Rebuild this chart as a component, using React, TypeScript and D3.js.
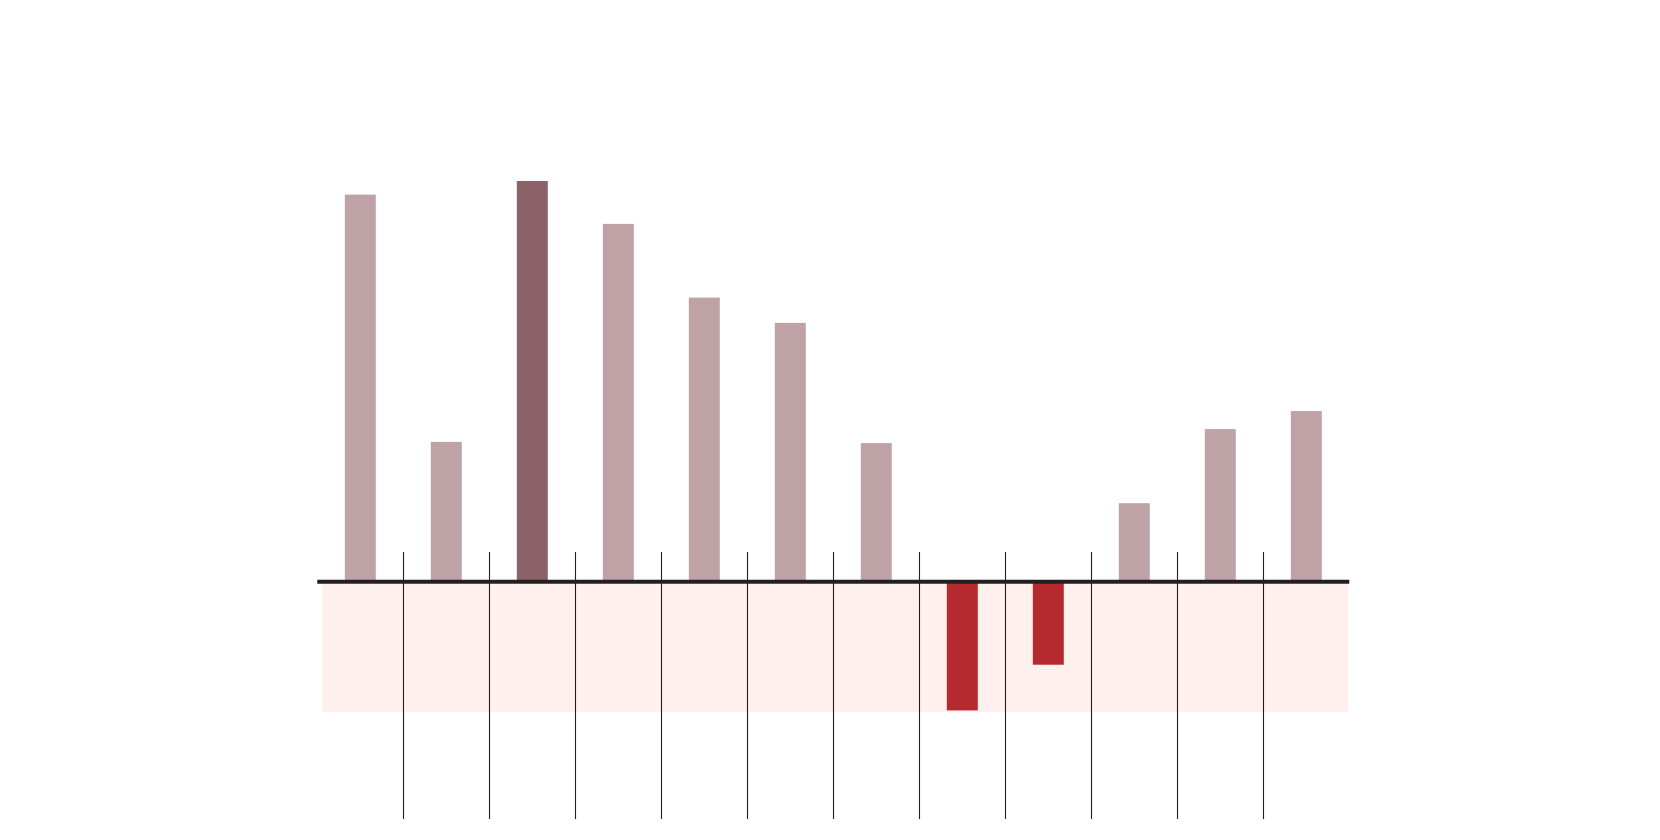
import React, { useRef, useEffect } from "react";
import * as d3 from "d3";

// Chart data
const categories = ["A", "B", "C", "D", "E", "F", "G", "H", "I", "J", "K", "L"];
const values = [96.6, 34.9, 100, 89.3, 70.9, 64.6, 34.6, -32.1, -20.7, 19.6, 38.1, 42.6];
const highlighted = ["C"];
const yDomain: [number, number] = [-32.5, 100];

const WIDTH = 1660;
const HEIGHT = 840;

const COLORS = {
    bar: "#bea2a6",
    highlight: "#8b6268",
    negative: "#b5292f",
    band: "#fef0ec",
    axis: "#231f20",
};

export default function App() {
    const svgRef = useRef<SVGSVGElement>(null);

    useEffect(() => {
        if (!svgRef.current) return;
        const svg = d3.select(svgRef.current);
        svg.selectAll("*").remove();

        const left = 317.3;
        const right = 1349.3;

        const x = d3.scaleBand<string>()
            .domain(categories)
            .range([left, right])
            .paddingInner(0.64)
            .paddingOuter(0.32);

        const y = d3.scaleLinear().domain(yDomain).range([712, 181]);
        const step = x.step();
        const zero = y(0);

        // Negative zone background
        svg.append("rect")
            .attr("x", left + 5)
            .attr("y", zero + 2)
            .attr("width", right - left - 6)
            .attr("height", y(yDomain[0]) - zero - 2)
            .attr("fill", COLORS.band);

        // Bars
        svg.append("g")
            .selectAll("rect")
            .data(categories)
            .join("rect")
            .attr("x", d => x(d) || 0)
            .attr("width", x.bandwidth())
            .attr("y", (d, i) => Math.min(y(values[i]), zero))
            .attr("height", (d, i) => Math.abs(y(values[i]) - zero))
            .attr("fill", (d, i) => {
                if (values[i] < 0) return COLORS.negative;
                return highlighted.includes(d) ? COLORS.highlight : COLORS.bar;
            });

        // Category separators
        svg.append("g")
            .selectAll("line")
            .data(categories.slice(1))
            .join("line")
            .attr("x1", (d, i) => Math.round(left + (i + 1) * step) + 0.5)
            .attr("x2", (d, i) => Math.round(left + (i + 1) * step) + 0.5)
            .attr("y1", 552)
            .attr("y2", 819)
            .attr("stroke", COLORS.axis)
            .attr("stroke-width", 1.1);

        // Zero baseline
        svg.append("line")
            .attr("x1", left)
            .attr("x2", right)
            .attr("y1", zero)
            .attr("y2", zero)
            .attr("stroke", COLORS.axis)
            .attr("stroke-width", 4);
    }, []);

    return (
        <svg
            ref={svgRef}
            width={WIDTH}
            height={HEIGHT}
            style={{ position: "absolute", left: 0, top: 0, background: "#fff" }}
        />
    );
}
